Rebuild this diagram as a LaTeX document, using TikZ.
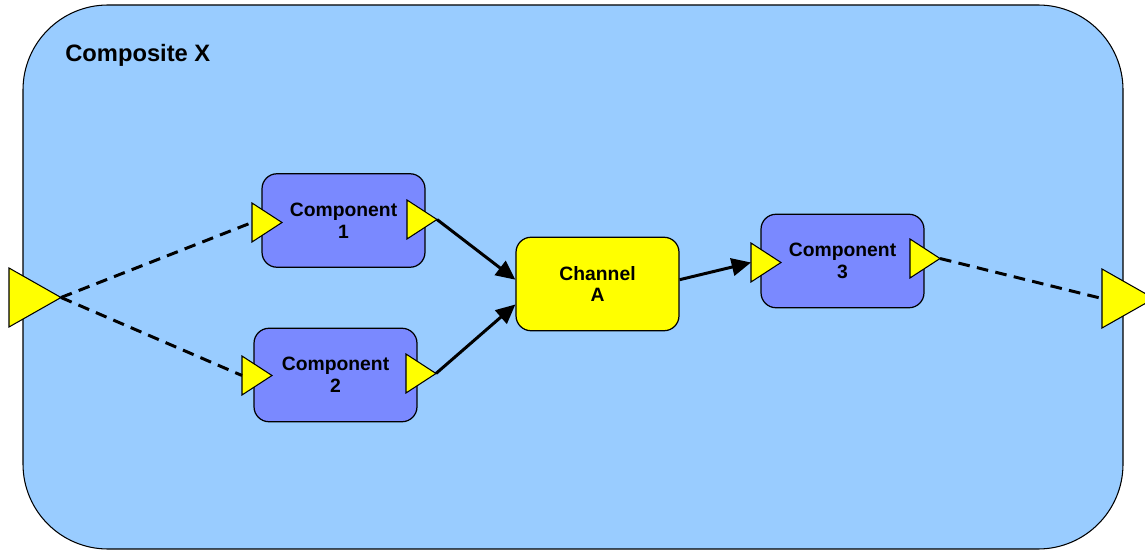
\documentclass[tikz,border=0pt]{standalone}
\usepackage{fontspec}
\setmainfont{Liberation Sans}
\usetikzlibrary{arrows.meta}
\definecolor{skyblue}{RGB}{153,204,255}
\definecolor{compblue}{RGB}{122,137,255}
\definecolor{portyellow}{RGB}{255,255,0}
\tikzset{
  comp/.style={draw, line width=0.7pt, fill=compblue, rounded corners=0.3cm,
    minimum width=3.26cm, minimum height=1.87cm, inner sep=0pt, align=center,
    font=\bfseries\fontsize{11}{12.5}\selectfont},
  chan/.style={comp, fill=portyellow},
  portshape/.style={draw, line width=0.6pt, fill=portyellow, line join=miter},
  link/.style={line width=1.7pt, -{Triangle[length=11pt,width=10pt]}},
  wire/.style={line width=1.7pt, dash pattern=on 6.6pt off 4.2pt}
}
% port triangle: name, base x, base y, half height, length
\newcommand{\port}[5]{%
  \draw[portshape] (#2,#3-#4) -- (#2+#5,#3) -- (#2,#3+#4) -- cycle;
  \coordinate (#1-base) at (#2,#3);
  \coordinate (#1-tip) at (#2+#5,#3);
}
\begin{document}
\begin{tikzpicture}[x=0.02cm,y=-0.02cm]
\useasboundingbox (0,0) rectangle (1145,550);
\draw[line width=0.6pt, fill=skyblue, rounded corners=1.7cm] (23,5) rectangle (1123,549);
\node[anchor=base west, inner sep=0pt, font=\bfseries\fontsize{13.5}{15}\selectfont] (title) at (65,62) {Composite X};

\node[comp] (comp1) at (343.5,220.5) {Component\\1};
\node[comp] (comp2) at (335.5,375) {Component\\2};
\node[chan] (chanA) at (597.5,284) {Channel\\A};
\node[comp] (comp3) at (842.5,261) {Component\\3};

\port{xin}{9}{297.5}{29.5}{52}
\port{xout}{1102}{298.5}{29.5}{52}
\port{c1in}{252}{222.5}{19.5}{30}
\port{c1out}{407}{219.5}{19.5}{30}
\port{c2in}{242}{375.5}{19.5}{30}
\port{c2out}{406}{373.5}{19.5}{30}
\port{c3in}{751}{262.5}{19.5}{30}
\port{c3out}{910}{258.5}{19.5}{30}

\draw[wire] (xin-tip) -- (c1in-base);
\draw[wire] (xin-tip) -- (c2in-base);
\draw[wire] (c3out-tip) -- (xout-base);
\draw[link] (c1out-tip) -- (chanA.177);
\draw[link] (c2out-tip) -- (chanA.194.5);
\draw[link] (chanA.3.5) -- (c3in-base);
\end{tikzpicture}
\end{document}
